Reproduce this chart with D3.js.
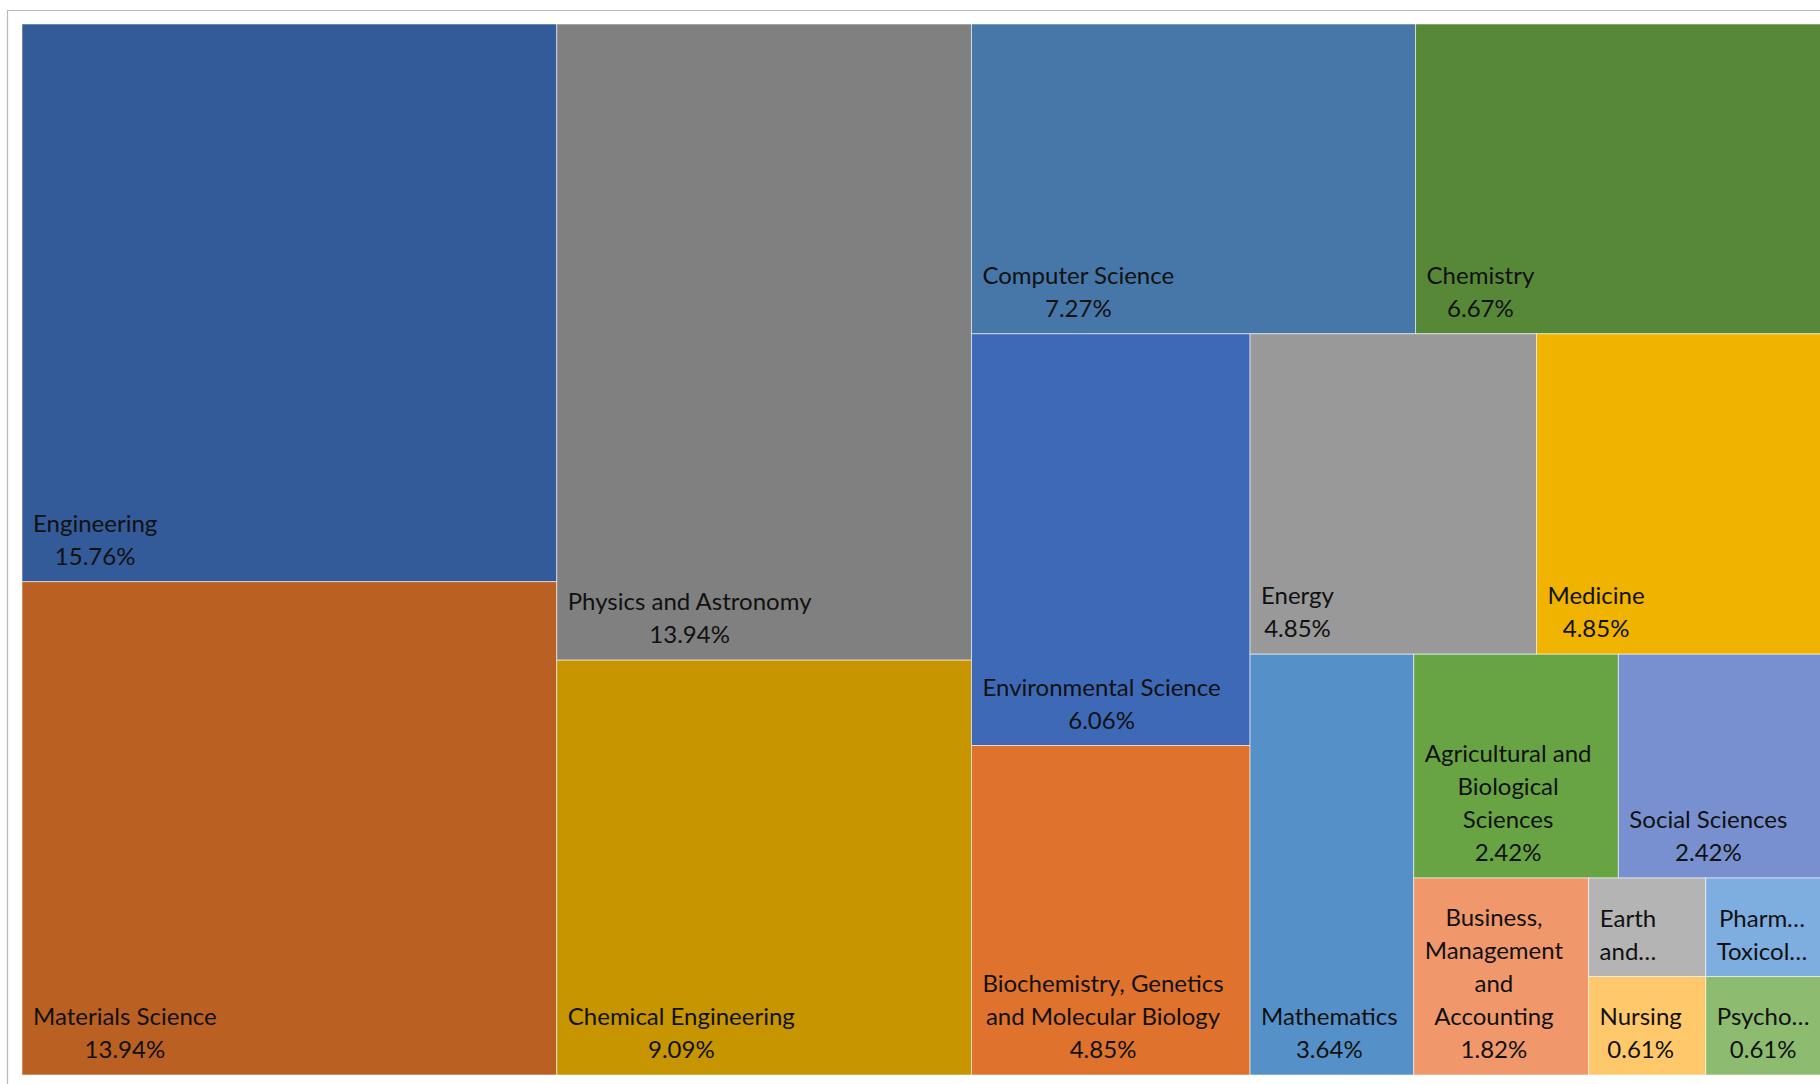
<!DOCTYPE html>
<html>
<head>
<meta charset="utf-8">
<script src="https://cdn.jsdelivr.net/npm/d3@7"></script>
<style>
  body { margin: 0; background: #fff; }
  svg { display: block; }
  .label { font-family: Lato, "Open Sans", sans-serif; font-size: 24px; fill: #111; }
</style>
</head>
<body>
<svg id="chart" width="1820" height="1084"></svg>
<script>
var subjects = ['Engineering', 'Materials Science', 'Physics and Astronomy', 'Chemical Engineering',
    'Computer Science', 'Chemistry', 'Environmental Science', 'Biochemistry, Genetics and Molecular Biology',
    'Energy', 'Medicine', 'Mathematics', 'Agricultural and Biological Sciences', 'Social Sciences',
    'Business, Management and Accounting', 'Earth and Planetary Sciences', 'Nursing',
    'Pharmacology, Toxicology and Pharmaceutics', 'Psychology'];
var shares = [15.76, 13.94, 13.94, 9.09, 7.27, 6.67, 6.06, 4.85, 4.85, 4.85, 3.64, 2.42, 2.42, 1.82, 0.61, 0.61, 0.61, 0.61];
var colors = ['#335a99', '#ba6022', '#808080', '#c69500', '#4677a8', '#578838', '#3e69b7', '#df722d',
    '#999999', '#efb300', '#5591c8', '#68a443', '#7990d0', '#f0986c', '#b4b4b4', '#ffc96b', '#7eaedf', '#8dbc70'];

var svg = d3.select('#chart'),
    margin = { top: 24, left: 22 },
    width = 1801,          // the plot runs a little past the right edge
    height = 1075 - margin.top,
    padX = 11,
    lineH = 33,
    baseGap = 17,
    maxAspect = 1.6;

// chart area frame (runs off the right and bottom edges)
svg.append('path')
    .attr('d', 'M7.5,1084V10.5H1820')
    .attr('fill', 'none')
    .attr('stroke', '#b8b8b8')
    .attr('stroke-width', 1.2);

// squarified rows, as Excel lays them out (rows capped at a fixed aspect)
function worstRatio (row, sum, side, k) {
    var t = sum * k / side;
    return d3.max(row, function (d) {
        var len = d.value * k / t;
        return Math.max(t / len, len / t);
    });
}

function excelTile (parent, x0, y0, x1, y1) {
    var nodes = parent.children, n = nodes.length, i0 = 0, value = parent.value;
    while (i0 < n) {
        var dx = x1 - x0, dy = y1 - y0,
            side = Math.min(dx, dy), k = dx * dy / value,
            i1 = i0 + 1, sum = nodes[i0].value,
            best = worstRatio(nodes.slice(i0, i1), sum, side, k);
        while (i1 < n) {
            var s = sum + nodes[i1].value,
                r = worstRatio(nodes.slice(i0, i1 + 1), s, side, k);
            if (r > best || r > maxAspect) break;
            sum = s; best = r; i1++;
        }
        var row = { value: sum, children: nodes.slice(i0, i1) };
        if (dx < dy) d3.treemapDice(row, x0, y0, x1, y0 += dy * sum / value);
        else d3.treemapSlice(row, x0, y0, x0 += dx * sum / value, y1);
        value -= sum;
        i0 = i1;
    }
}

var data = subjects.map(function (s, i) {
    return { name: s, value: shares[i], color: colors[i] };
});

var root = d3.hierarchy({ children: data }).sum(function (d) { return d.value || 0; });
d3.treemap().tile(excelTile).size([width, height])(root);

var g = svg.append('g').attr('transform', 'translate(' + margin.left + ',' + margin.top + ')');

var cell = g.selectAll('g.cell')
    .data(root.leaves())
    .enter().append('g')
    .attr('class', 'cell');

cell.append('rect')
    .attr('x', function (d) { return d.x0; })
    .attr('y', function (d) { return d.y0; })
    .attr('width', function (d) { return d.x1 - d.x0; })
    .attr('height', function (d) { return d.y1 - d.y0; })
    .attr('fill', function (d) { return d.data.color; })
    .attr('stroke', 'rgba(255,255,255,0.55)')
    .attr('stroke-width', 1);

// text measuring
var probe = svg.append('text').attr('class', 'label').attr('x', -999).attr('y', -999);
function textWidth (s) {
    probe.text(s);
    return probe.node().getComputedTextLength();
}
function clip (s, avail) {
    if (textWidth(s) <= avail) return s;
    var t = s;
    while (t.length > 1 && textWidth(t + '\u2026') > avail) t = t.slice(0, -1);
    return t + '\u2026';
}

function labelLines (d) {
    var avail = d.x1 - d.x0 - 2 * padX,
        maxLines = Math.floor((d.y1 - d.y0 - 8) / lineH),
        words = d.data.name.split(' '),
        lines = [], cur = '';
    words.forEach(function (w) {
        var test = cur ? cur + ' ' + w : w;
        if (textWidth(test) <= avail) cur = test;
        else {
            if (cur) lines.push(cur);
            cur = w;
        }
    });
    if (cur) lines.push(cur);
    lines = lines.map(function (l) { return clip(l, avail); });
    var pct = d3.format('.2f')(d.data.value) + '%';
    if (lines.length + 1 <= maxLines) {
        lines.push(pct);
    } else {
        lines = lines.slice(0, maxLines);
        var last = lines[lines.length - 1];
        if (last.slice(-1) !== '\u2026') lines[lines.length - 1] = clip(last + '\u2026', avail);
    }
    return lines;
}

cell.each(function (d) {
    var lines = labelLines(d),
        block = d3.max(lines, textWidth),
        cx = d.x0 + padX + block / 2,
        n = lines.length;
    var text = d3.select(this).append('text')
        .attr('class', 'label')
        .attr('text-anchor', 'middle');
    lines.forEach(function (l, i) {
        text.append('tspan')
            .attr('x', cx)
            .attr('y', d.y1 - baseGap - (n - 1 - i) * lineH)
            .text(l);
    });
});

probe.remove();
</script>
</body>
</html>
